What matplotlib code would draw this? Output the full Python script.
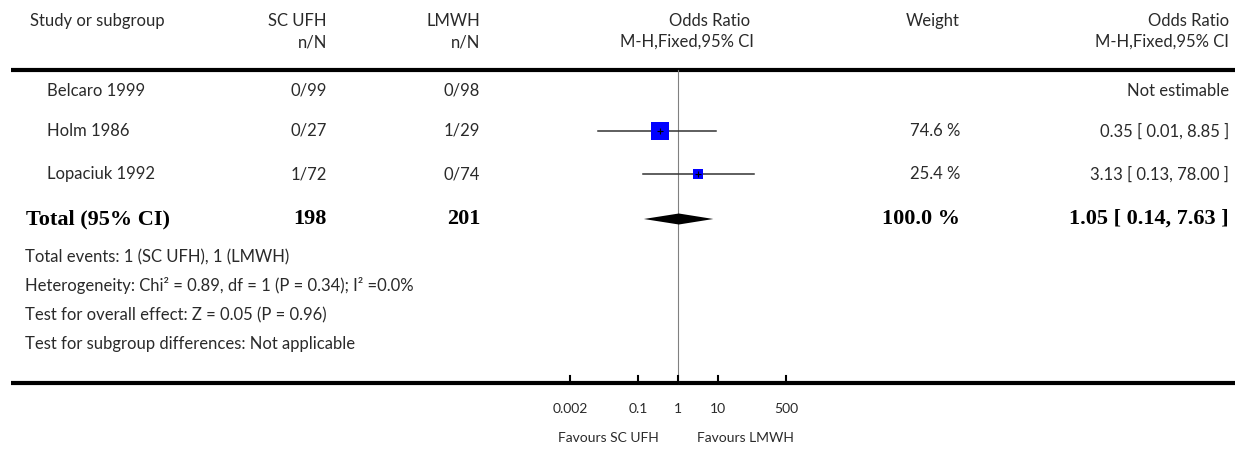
"""
    forest plot: SC UFH vs LMWH
"""

import math

import matplotlib.pyplot as plt
import numpy as np

studies = ["Belcaro 1999", "Holm 1986", "Lopaciuk 1992"]
ufh_events = [0, 0, 1]
ufh_total = [99, 27, 72]
lmwh_events = [0, 1, 0]
lmwh_total = [98, 29, 74]
weights = [np.nan, 74.6, 25.4]
odds = [np.nan, 0.35, 3.13]
ci_low = [np.nan, 0.01, 0.13]
ci_high = [np.nan, 8.85, 78.00]

total_label = "Total (95% CI)"
total_ufh = 198
total_lmwh = 201
total_weight = 100.0
total_or = 1.05
total_low = 0.14
total_high = 7.63

footnotes = [
    "Total events: 1 (SC UFH), 1 (LMWH)",
    "Heterogeneity: Chi² = 0.89, df = 1 (P = 0.34); I² =0.0%",
    "Test for overall effect: Z = 0.05 (P = 0.96)",
    "Test for subgroup differences: Not applicable",
]

tick_values = [0.002, 0.1, 1, 10, 500]
tick_labels = ["0.002", "0.1", "1", "10", "500"]
favours_left = "Favours SC UFH"
favours_right = "Favours LMWH"

W, H = 1235, 449
FONT = "Lato"
TXT = "#2a2a2a"


def main():
    fig = plt.figure(figsize=(W / 100, H / 100), dpi=100)
    ax = fig.add_axes([0, 0, 1, 1])
    ax.set_xlim(0, W)
    ax.set_ylim(H, 0)
    ax.axis("off")

    # forest panel: log axis, 1 at x=678 px, 40 px per decade
    centre, per_dec, half = 678, 40, 2.7
    left = centre - half * per_dec
    fx = fig.add_axes([left / W, 0, 2 * half * per_dec / W, 1])
    fx.set_xscale("log")
    fx.set_xlim(10 ** -half, 10 ** half)
    fx.set_ylim(H, 0)
    fx.axis("off")

    reg = dict(family=FONT, fontsize=12, color=TXT, va="center")
    small = dict(family=FONT, fontsize=10, color=TXT, va="center")
    bold = dict(family="Liberation Serif", fontsize=16, fontweight="bold",
                color="black", va="center")

    # header
    h1, h2, top = 21, 42, 70
    ax.text(30, h1, "Study or subgroup", ha="left", **reg)
    ax.text(327, h1, "SC UFH", ha="right", **reg)
    ax.text(480, h1, "LMWH", ha="right", **reg)
    ax.text(750, h1, "Odds Ratio", ha="right", **reg)
    ax.text(960, h1, "Weight", ha="right", **reg)
    ax.text(1229, h1, "Odds Ratio", ha="right", **reg)
    ax.text(327, h2, "n/N", ha="right", **reg)
    ax.text(480, h2, "n/N", ha="right", **reg)
    ax.text(754, h2, "M-H,Fixed,95% CI", ha="right", **reg)
    ax.text(1229, h2, "M-H,Fixed,95% CI", ha="right", **reg)
    ax.plot([11, W], [top, top], color="black", lw=3, solid_capstyle="butt")

    row_y = [91, 131, 174]
    for i, name in enumerate(studies):
        y = row_y[i]
        ax.text(47, y, name, ha="left", **reg)
        ax.text(327, y, f"{ufh_events[i]}/{ufh_total[i]}", ha="right", **reg)
        ax.text(480, y, f"{lmwh_events[i]}/{lmwh_total[i]}", ha="right", **reg)
        if math.isnan(odds[i]):
            ax.text(1229, y, "Not estimable", ha="right", **reg)
            continue
        ax.text(960, y, f"{weights[i]:.1f} %", ha="right", **reg)
        ax.text(1229, y, f"{odds[i]:.2f} [ {ci_low[i]:.2f}, {ci_high[i]:.2f} ]",
                ha="right", **reg)
        fx.plot([ci_low[i], ci_high[i]], [y, y], color="#333333", lw=1.1,
                clip_on=False, zorder=2)
        fx.plot(odds[i], y, marker="s", color="#0000ff", linestyle="none",
                markersize=1.5 * math.sqrt(weights[i]), markeredgewidth=0,
                clip_on=False, zorder=3)
        fx.plot(odds[i], y, marker="+", color="black", linestyle="none",
                markersize=4, markeredgewidth=0.8, clip_on=False, zorder=4)

    # total row
    ty = 219
    ax.text(26, ty, total_label, ha="left", **bold)
    ax.text(327, ty, str(total_ufh), ha="right", **bold)
    ax.text(480, ty, str(total_lmwh), ha="right", **bold)
    ax.text(960, ty, f"{total_weight:.1f} %", ha="right", **bold)
    ax.text(1229, ty, f"{total_or:.2f} [ {total_low:.2f}, {total_high:.2f} ]",
            ha="right", **bold)
    dh = 5.5
    fx.fill([total_low, total_or, total_high, total_or],
            [ty, ty - dh, ty, ty + dh], color="black", lw=0, clip_on=False,
            zorder=3)

    for k, line in enumerate(footnotes):
        ax.text(25, 257 + 29 * k, line, ha="left", **reg)

    # null line, axis and ticks
    axis_y = 383
    fx.plot([1, 1], [top, axis_y], color="#808080", lw=0.8, zorder=1)
    ax.plot([11, W], [axis_y, axis_y], color="black", lw=3,
            solid_capstyle="butt")
    for v, lab in zip(tick_values, tick_labels):
        fx.plot([v, v], [376, axis_y], color="black", lw=1.5, clip_on=False)
        fx.text(v, 409, lab, ha="center", **small)
    fx.text(1 / 3.0, 438, favours_left, ha="right", **small)
    fx.text(3.0, 438, favours_right, ha="left", **small)

    fig.savefig("out.png", dpi=100)


if __name__ == "__main__":
    main()
